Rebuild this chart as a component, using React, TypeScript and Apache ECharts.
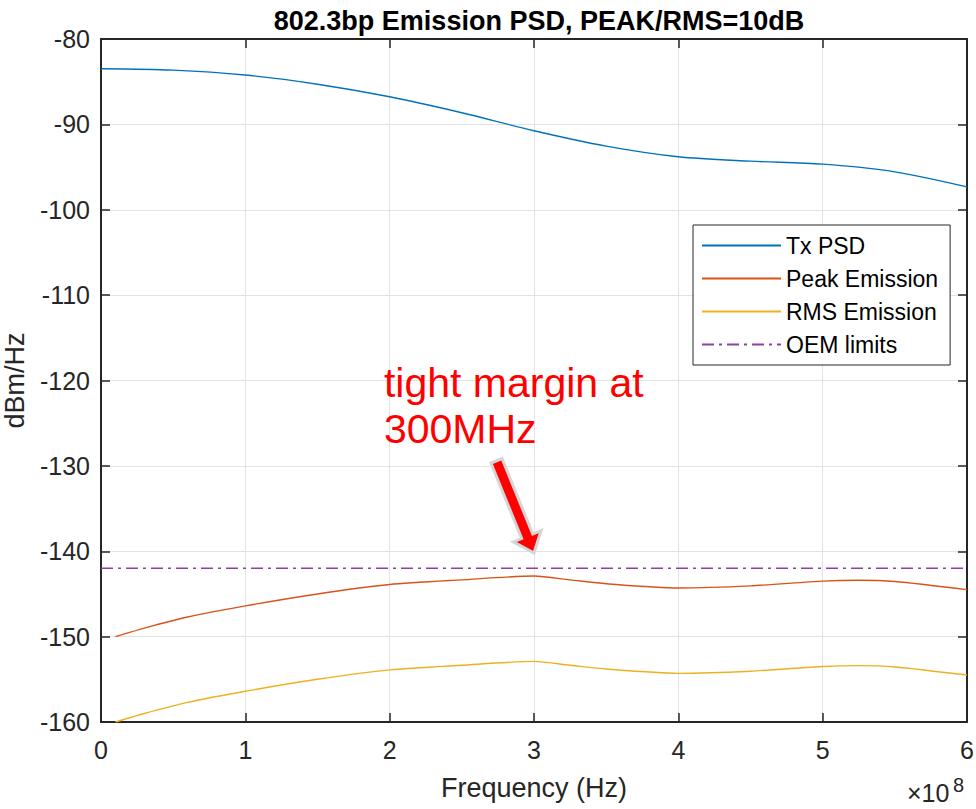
import React, { useEffect, useRef } from "react";
import * as echarts from "echarts";

// Frequency in units of 1e8 Hz
const txFreq = [0, 0.5, 1, 1.5, 2, 2.5, 3, 3.5, 4, 4.5, 5, 5.5, 6];
const txPsd = [-83.48, -83.64, -84.22, -85.3, -86.77, -88.64, -90.75, -92.55, -93.8, -94.31, -94.66, -95.56, -97.32];

const emFreq = [0.1, 0.3, 0.6, 1, 1.5, 2, 2.5, 3, 3.25, 3.5, 4, 4.5, 5, 5.25, 5.5, 6];
const peakEmission = [-150.0, -149.0, -147.7, -146.4, -145.0, -143.9, -143.35, -142.9, -143.35, -143.8, -144.3, -144.05, -143.5, -143.4, -143.55, -144.5];
const rmsEmission = [-160.0, -159.0, -157.7, -156.4, -155.0, -153.9, -153.35, -152.9, -153.35, -153.8, -154.3, -154.05, -153.5, -153.4, -153.55, -154.5];

const oemFreq = [0, 6];
const oemLimit = [-142, -142];

const seriesNames = ["Tx PSD", "Peak Emission", "RMS Emission", "OEM limits"];
const colors = ["#0072BD", "#D95319", "#EDB120", "#8E3FA0"];

const FONT = "'Liberation Sans', Arial, Helvetica, sans-serif";
const AXIS_COLOR = "#262626";

const zip = (xs: number[], ys: number[]) => xs.map((x, i) => [x, ys[i]]);

export default function App() {
  const ref = useRef<HTMLDivElement>(null);

  useEffect(() => {
    if (!ref.current) return;
    const chart = echarts.init(ref.current, null, { renderer: "svg" });

    const axisCommon = {
      axisLine: { show: true, onZero: false, lineStyle: { color: AXIS_COLOR, width: 2 } },
      axisTick: { show: true, inside: true, length: 9, lineStyle: { color: AXIS_COLOR, width: 1.5 } },
    };

    const option: any = {
      animation: false,
      backgroundColor: "#ffffff",
      title: {
        text: "802.3bp Emission PSD, PEAK/RMS=10dB",
        left: 534,
        textAlign: "center",
        top: 2,
        textStyle: { fontFamily: FONT, fontSize: 27, fontWeight: "bold", color: "#000000" },
      },
      grid: { left: 101, right: 9, top: 39, bottom: 87, containLabel: false, outerBoundsMode: "none" },
      legend: {
        orient: "vertical",
        left: 693,
        top: 225,
        padding: [9, 12, 9, 8],
        itemWidth: 79,
        itemHeight: 10,
        itemGap: 10,
        borderColor: AXIS_COLOR,
        borderWidth: 1,
        backgroundColor: "#ffffff",
        data: seriesNames,
        itemStyle: { opacity: 0 },
        textStyle: { fontFamily: FONT, fontSize: 23, color: "#000000", lineHeight: 23 },
      },
      xAxis: [
        {
          type: "value",
          min: 0,
          max: 6,
          interval: 1,
          name: "Frequency (Hz)",
          nameLocation: "middle",
          nameGap: 52,
          nameTextStyle: { fontFamily: FONT, fontSize: 27, color: AXIS_COLOR },
          ...axisCommon,
          axisLabel: { fontFamily: FONT, fontSize: 25, color: AXIS_COLOR, margin: 15 },
          splitLine: { show: true, lineStyle: { color: "#e3e3e3", width: 1 } },
        },
        {
          type: "value",
          position: "top",
          min: 0,
          max: 6,
          interval: 1,
          ...axisCommon,
          axisLabel: { show: false },
          splitLine: { show: false },
        },
      ],
      yAxis: [
        {
          type: "value",
          min: -160,
          max: -80,
          interval: 10,
          name: "dBm/Hz",
          nameLocation: "middle",
          nameGap: 73,
          nameTextStyle: { fontFamily: FONT, fontSize: 27, color: AXIS_COLOR },
          ...axisCommon,
          axisLabel: { fontFamily: FONT, fontSize: 25, color: AXIS_COLOR, margin: 11 },
          splitLine: { show: true, lineStyle: { color: "#e3e3e3", width: 1 } },
        },
        {
          type: "value",
          position: "right",
          min: -160,
          max: -80,
          interval: 10,
          ...axisCommon,
          axisLabel: { show: false },
          splitLine: { show: false },
        },
      ],
      series: [
        {
          name: seriesNames[0],
          type: "line",
          data: zip(txFreq, txPsd),
          smooth: 0.3,
          symbol: "none",
          lineStyle: { color: colors[0], width: 1.4 },
          itemStyle: { color: colors[0] },
        },
        {
          name: seriesNames[1],
          type: "line",
          data: zip(emFreq, peakEmission),
          smooth: 0.25,
          symbol: "none",
          lineStyle: { color: colors[1], width: 1.4 },
          itemStyle: { color: colors[1] },
        },
        {
          name: seriesNames[2],
          type: "line",
          data: zip(emFreq, rmsEmission),
          smooth: 0.25,
          symbol: "none",
          lineStyle: { color: colors[2], width: 1.4 },
          itemStyle: { color: colors[2] },
        },
        {
          name: seriesNames[3],
          type: "line",
          data: zip(oemFreq, oemLimit),
          symbol: "none",
          lineStyle: { color: colors[3], width: 1.5, type: [12, 5, 3, 5] },
          itemStyle: { color: colors[3] },
        },
      ],
    };

    chart.setOption(option);

    // Annotation arrow pointing at the 300 MHz peak
    const tip = chart.convertToPixel({ gridIndex: 0 }, [3.0, -140.2]) as number[];
    const tail = chart.convertToPixel({ gridIndex: 0 }, [2.74, -129.4]) as number[];
    const dx = tip[0] - tail[0];
    const dy = tip[1] - tail[1];
    const len = Math.hypot(dx, dy);
    const ux = dx / len;
    const uy = dy / len;
    const nx = -uy;
    const ny = ux;
    const shaftHalf = 6;
    const headHalf = 15;
    const headLen = 18;
    const bx = tip[0] - ux * headLen;
    const by = tip[1] - uy * headLen;
    const arrowPts = [
      [tail[0] + nx * shaftHalf, tail[1] + ny * shaftHalf],
      [bx + nx * shaftHalf, by + ny * shaftHalf],
      [bx + nx * headHalf, by + ny * headHalf],
      [tip[0], tip[1]],
      [bx - nx * headHalf, by - ny * headHalf],
      [bx - nx * shaftHalf, by - ny * shaftHalf],
      [tail[0] - nx * shaftHalf, tail[1] - ny * shaftHalf],
    ];
    const textAnchor = chart.convertToPixel({ gridIndex: 0 }, [1.96, -117.6]) as number[];

    chart.setOption({
      graphic: [
        {
          type: "polygon",
          shape: { points: arrowPts },
          style: { fill: "#ff0000", stroke: "#d6d6d6", lineWidth: 3, lineJoin: "miter" },
          z: 10,
        },
        {
          type: "text",
          x: textAnchor[0],
          y: textAnchor[1],
          style: {
            text: "tight margin at\n300MHz",
            fill: "#ff0000",
            font: `41px ${FONT}`,
            lineHeight: 46,
            align: "left",
            verticalAlign: "top",
          },
          z: 10,
        },
        {
          type: "text",
          x: 907,
          y: 805,
          style: {
            text: "×10",
            fill: AXIS_COLOR,
            font: `25px ${FONT}`,
            align: "left",
            verticalAlign: "bottom",
          },
        },
        {
          type: "text",
          x: 953,
          y: 775,
          style: {
            text: "8",
            fill: AXIS_COLOR,
            font: `20px ${FONT}`,
            align: "left",
            verticalAlign: "top",
          },
        },
      ],
    });

    return () => chart.dispose();
  }, []);

  return <div ref={ref} style={{ width: 976, height: 809, position: "absolute", left: 0, top: 0 }} />;
}
